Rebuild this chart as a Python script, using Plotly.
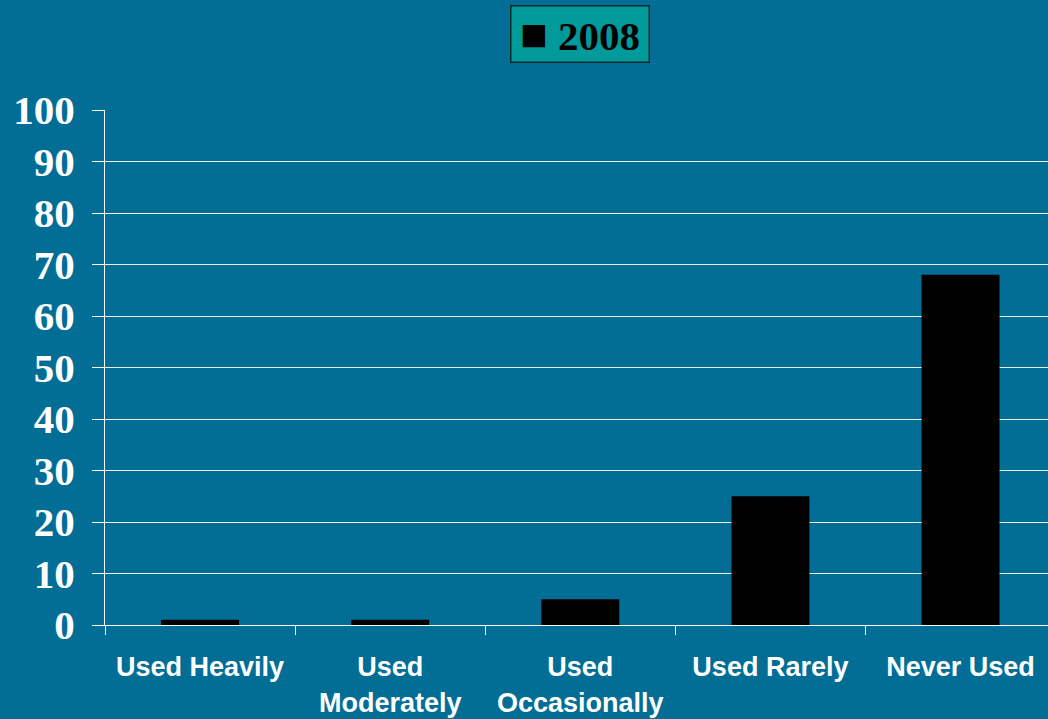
import plotly.graph_objects as go

categories = ["Used Heavily", "Used<br>Moderately", "Used<br>Occasionally", "Used Rarely", "Never Used"]
values_2008 = [1, 1, 5, 25, 68]
series_name = "2008"
y_ticks = [0, 10, 20, 30, 40, 50, 60, 70, 80, 90, 100]

BG = "#026E96"

fig = go.Figure()
fig.add_trace(go.Bar(x=categories, y=values_2008, name=series_name,
                     marker=dict(color="black", line=dict(width=0)),
                     showlegend=False))

fig.update_layout(
    width=1048, height=719,
    paper_bgcolor=BG, plot_bgcolor=BG,
    margin=dict(l=105, r=0, t=110, b=94),
    bargap=0.59,
    xaxis=dict(
        range=[-0.5, 4.46],
        showline=True, linecolor="white", linewidth=1,
        ticks="outside", tickson="boundaries", ticklen=9, tickcolor="white",
        tickfont=dict(family="Liberation Sans, Arial", size=27, color="white", weight="bold"),
        ticklabelstandoff=18,
        showgrid=False,
    ),
    yaxis=dict(
        range=[0, 100], tickvals=y_ticks,
        showline=True, linecolor="white", linewidth=1,
        ticks="outside", ticklen=12, tickcolor="white",
        tickfont=dict(family="Liberation Serif, Times New Roman", size=41, color="white", weight="bold"),
        ticklabelstandoff=9,
        showgrid=True, gridcolor="rgba(255,255,255,0.9)", gridwidth=1,
        zeroline=False,
    ),
    annotations=[dict(
        x=0.504, y=1 + 105 / 515, xref="paper", yref="paper", xanchor="center", yanchor="top",
        text="<span style='font-size:46px'>\u25A0</span> " + series_name, showarrow=False,
        font=dict(family="Liberation Serif, Times New Roman", size=41, color="black", weight="bold"),
        width=131, height=49, align="center", valign="middle",
        bgcolor="#009A9A", bordercolor="#0a2a2a", borderwidth=1.5, borderpad=3,
    )],
)

fig.write_html(
    "out.html",
    config={"displayModeBar": False},
    post_script="document.body.style.margin='0';document.body.style.overflow='hidden';"
                "document.body.style.background='" + BG + "';",
)
